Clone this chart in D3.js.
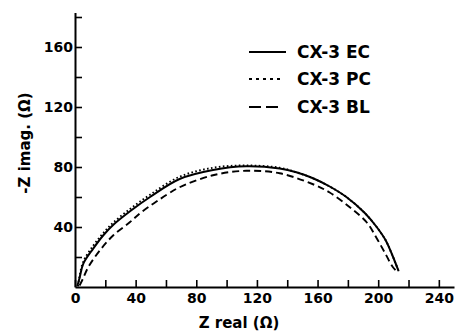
<!DOCTYPE html>
<html>
<head>
<meta charset="utf-8">
<script src="https://cdn.jsdelivr.net/npm/d3@7"></script>
<style>
  html, body { margin: 0; padding: 0; background: #fff; }
  svg { display: block; }
  text { font-family: "DejaVu Sans", sans-serif; font-weight: bold; fill: #000; }
</style>
</head>
<body>
<svg id="chart" width="456" height="332"></svg>
<script>
// ---- data (Z real, -Z imag in ohms) ----
const seriesNames = ["CX-3 EC", "CX-3 PC", "CX-3 BL"];
const ecReal = [1.5, 3, 5.5, 12, 18.7, 25.3, 36.3, 49.5, 69, 91, 113, 135, 146, 157, 168, 179, 191, 199, 205, 209, 213.5];
const ecImag = [0.5, 6, 15.6, 25.6, 34.5, 41.5, 50.5, 60, 72, 78, 80.5, 79, 76.5, 72.5, 67, 60, 49.5, 40, 31, 22, 10.5];
const pcReal = [2, 3, 5.5, 12, 18.7, 25.3, 36.3, 49.5, 69, 91, 113, 135, 146, 157, 168, 179, 191, 199, 205, 209, 213.5];
const pcImag = [0.5, 7, 17, 27.5, 36, 43, 52, 61.5, 73.5, 79.5, 81, 79.5, 76.5, 72.5, 67, 60, 49.5, 40, 31, 22, 10.5];
const blReal = [3, 5, 8.8, 16.5, 25.3, 36.3, 44, 60.5, 69, 91, 113, 135, 157, 168, 181.5, 192.5, 199, 204.6, 209.5, 213];
const blImag = [1, 5, 13.3, 24.5, 34.5, 43.3, 50, 61.5, 66.5, 74.5, 77.5, 75.8, 68.5, 63, 53, 43, 32.5, 22.5, 13.5, 9.5];
const xTickLabels = [0, 40, 80, 120, 160, 200, 240];
const yTickLabels = [40, 80, 120, 160];
const xMinorTicks = [20, 60, 100, 140, 180, 220];
const yMinorTicks = [20, 60, 100, 140, 180];
const xTitle = "Z real (\u03A9)";
const yTitle = "-Z imag. (\u03A9)";

// ---- layout ----
const svg = d3.select("#chart");
const x = d3.scaleLinear().domain([0, 250]).range([75, 454]);
const y = d3.scaleLinear().domain([0, 183]).range([287, 12.5]);

const series = [
  { name: seriesNames[0], re: ecReal, im: ecImag, dash: null, legDash: null },
  { name: seriesNames[1], re: pcReal, im: pcImag, dash: "1.6,2.4", legDash: "3,4" },
  { name: seriesNames[2], re: blReal, im: blImag, dash: "7,4", legDash: "12,5" }
];

const line = d3.line().x(d => x(d[0])).y(d => y(d[1])).curve(d3.curveCatmullRom.alpha(0.5));

series.forEach(s => {
  const pts = s.re.map((v, i) => [v, s.im[i]]);
  svg.append("path")
    .attr("d", line(pts))
    .attr("fill", "none")
    .attr("stroke", "#000")
    .attr("stroke-width", s.dash ? 1.9 : 2)
    .attr("stroke-dasharray", s.dash);
});

// ---- axes ----
const xAxis = d3.axisBottom(x).tickValues(xTickLabels.concat(xMinorTicks))
  .tickSizeInner(-7).tickSizeOuter(0)
  .tickFormat(d => xTickLabels.includes(d) ? d : "");
const gx = svg.append("g").attr("transform", `translate(0,${y(0)})`).call(xAxis);
gx.select(".domain").attr("stroke-width", 2);
gx.selectAll(".tick line").attr("stroke-width", 1.6);
gx.selectAll(".tick text").attr("font-size", 14).attr("font-family", "DejaVu Sans").attr("font-weight", "bold").attr("fill", "#000").attr("y", 6);

const yAxis = d3.axisLeft(y).tickValues(yTickLabels.concat(yMinorTicks))
  .tickSizeInner(-7).tickSizeOuter(0)
  .tickFormat(d => yTickLabels.includes(d) ? d : "");
const gy = svg.append("g").attr("transform", `translate(${x(0)},0)`).call(yAxis);
gy.select(".domain").attr("stroke-width", 2);
gy.selectAll(".tick line").attr("stroke-width", 1.6);
gy.selectAll(".tick text").attr("font-size", 14).attr("font-family", "DejaVu Sans").attr("font-weight", "bold").attr("fill", "#000").attr("x", -2);

// ---- titles ----
svg.append("text").attr("x", 239).attr("y", 328).attr("text-anchor", "middle")
  .attr("font-size", 15).text(xTitle);
svg.append("text").attr("transform", "translate(30,143) rotate(-90)").attr("text-anchor", "middle")
  .attr("font-size", 15).text(yTitle);

// ---- legend ----
const legY = [52, 79, 107];
const legEnd = [286, 283, 278];
series.forEach((s, i) => {
  svg.append("line").attr("x1", 249).attr("x2", legEnd[i]).attr("y1", legY[i]).attr("y2", legY[i])
    .attr("stroke", "#000").attr("stroke-width", 2).attr("stroke-dasharray", s.legDash);
  svg.append("text").attr("x", 297).attr("y", legY[i] + 6).attr("font-size", 17).text(s.name);
});
</script>
</body>
</html>
